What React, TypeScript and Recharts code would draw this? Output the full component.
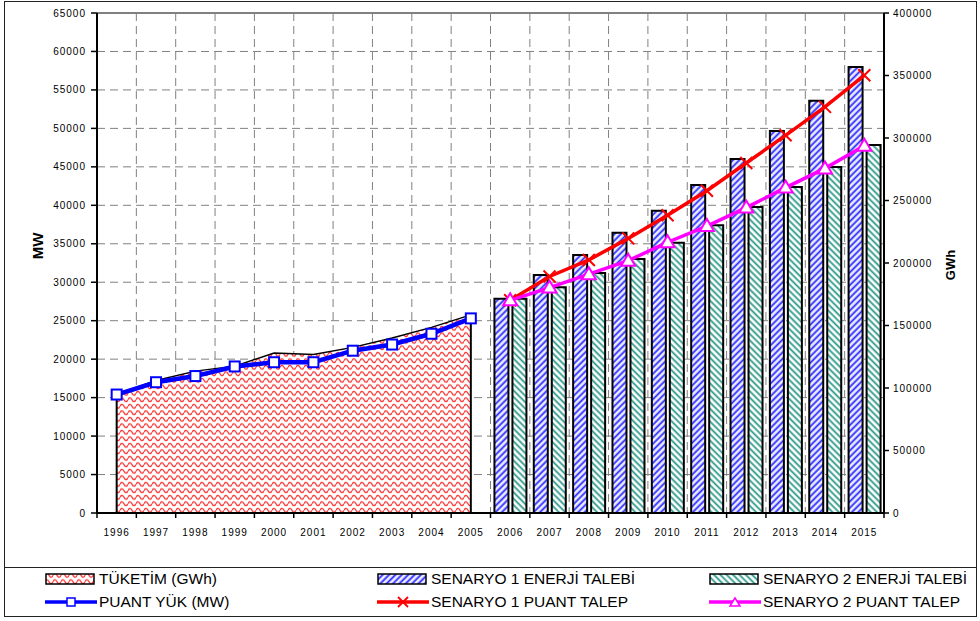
import React from "react";
import {
  ComposedChart,
  Area,
  Bar,
  Line,
  XAxis,
  YAxis,
  CartesianGrid,
  ReferenceLine,
} from "recharts";

const years = [
  "1996", "1997", "1998", "1999", "2000", "2001", "2002", "2003", "2004", "2005",
  "2006", "2007", "2008", "2009", "2010", "2011", "2012", "2013", "2014", "2015",
];

// 1996-2005 (historical)
const tuketim = [94800, 106000, 113500, 117500, 128000, 126900, 132500, 140000, 148500, 158500];
const puantYuk = [15400, 17000, 17800, 19050, 19600, 19600, 21100, 21900, 23300, 25300];

// 2006-2015 (scenarios)
const s1Enerji = [171500, 190400, 206400, 224200, 241800, 262400, 283200, 305600, 329800, 356800];
const s2Enerji = [171500, 180600, 192000, 203200, 216200, 230200, 244800, 260800, 276800, 294400];
const s1Puant = [27650, 30750, 32900, 35700, 38700, 41900, 45500, 49100, 52800, 56900];
const s2Puant = [27650, 29300, 31050, 32800, 35200, 37300, 39700, 42300, 44800, 47750];

const mwTicks = [0, 5000, 10000, 15000, 20000, 25000, 30000, 35000, 40000, 45000, 50000, 55000, 60000, 65000];
const gwhTicks = [0, 50000, 100000, 150000, 200000, 250000, 300000, 350000, 400000];

const histCount = tuketim.length;

const data = years.map((year, i) => ({
  year,
  tuketim: i < histCount ? tuketim[i] : null,
  puantYuk: i < histCount ? puantYuk[i] : null,
  s1Enerji: i >= histCount ? s1Enerji[i - histCount] : null,
  s2Enerji: i >= histCount ? s2Enerji[i - histCount] : null,
  s1Puant: i >= histCount ? s1Puant[i - histCount] : null,
  s2Puant: i >= histCount ? s2Puant[i - histCount] : null,
}));

const BLUE = "#0000ff";
const RED = "#ff0000";
const PINK = "#ff00ff";

function Patterns({ p }: { p: string }) {
  return (
    <defs>
      <pattern id={`${p}wave`} width={8} height={6.5} patternUnits="userSpaceOnUse">
        <rect width={8} height={6.5} fill="#fff" />
        <path d="M0 3.25 Q2 -0.75 4 3.25 Q6 7.25 8 3.25" fill="none" stroke="#ff2a2a" strokeWidth={1.3} />
      </pattern>
      <pattern id={`${p}s1`} width={4.5} height={4.5} patternUnits="userSpaceOnUse" patternTransform="rotate(45)">
        <rect width={4.5} height={4.5} fill="#eeeeff" />
        <line x1={1.5} y1={0} x2={1.5} y2={4.5} stroke="#2b2bff" strokeWidth={1.8} />
      </pattern>
      <pattern id={`${p}s2`} width={4.5} height={4.5} patternUnits="userSpaceOnUse" patternTransform="rotate(-45)">
        <rect width={4.5} height={4.5} fill="#fff" />
        <line x1={1.5} y1={0} x2={1.5} y2={4.5} stroke="#2e9a8a" strokeWidth={1.8} />
      </pattern>
    </defs>
  );
}

const SquareDot = (props: any) => {
  const { cx, cy, value, index } = props;
  if (cx == null || cy == null || value == null) return <g key={`sq${index}`} />;
  return <rect key={`sq${index}`} x={cx - 5} y={cy - 5} width={10} height={10} fill="#fff" stroke={BLUE} strokeWidth={2} />;
};

const CrossDot = (props: any) => {
  const { cx, cy, value, index } = props;
  if (cx == null || cy == null || value == null) return <g key={`cr${index}`} />;
  return (
    <path key={`cr${index}`} d={`M${cx - 6} ${cy - 6} L${cx + 6} ${cy + 6} M${cx + 6} ${cy - 6} L${cx - 6} ${cy + 6}`} stroke={RED} strokeWidth={2} />
  );
};

const TriangleDot = (props: any) => {
  const { cx, cy, value, index } = props;
  if (cx == null || cy == null || value == null) return <g key={`tr${index}`} />;
  return (
    <path key={`tr${index}`} d={`M${cx} ${cy - 7} L${cx + 7} ${cy + 5} L${cx - 7} ${cy + 5} Z`} fill="#fff" stroke={PINK} strokeWidth={2} />
  );
};

const tickStyle = { fontSize: 10, fill: "#000", letterSpacing: 1 };

const X_TICK_SIZE = 6;
const X_TICK_MARGIN = 10;

// year label + tick marks at the category boundaries (Excel style)
const YearTick = (props: any) => {
  const { x, y, payload, index } = props;
  const half = payload?.offset ?? 0;
  const axisY = y - X_TICK_SIZE - X_TICK_MARGIN;
  const isLast = index === years.length - 1;
  return (
    <g>
      <line x1={x - half} y1={axisY} x2={x - half} y2={axisY + 5} stroke="#000" strokeWidth={1.5} />
      {isLast && <line x1={x + half} y1={axisY} x2={x + half} y2={axisY + 5} stroke="#000" strokeWidth={1.5} />}
      <text x={x} y={y} dy="0.71em" textAnchor="middle" fontSize={10} fill="#000" letterSpacing={1}>
        {payload.value}
      </text>
    </g>
  );
};

// vertical dashed grid lines at the category boundaries, taken from the band scale
const boundaryLines = (props: any) => {
  try {
    const scale = props?.xAxis?.scale;
    if (!scale || typeof scale.bandwidth !== "function") return [];
    const bw = scale.bandwidth();
    let xs: number[];
    if (typeof scale === "function") {
      xs = years.map((y) => scale(y));
    } else if (typeof scale.map === "function") {
      xs = years.map((y) => scale.map(y));
    } else {
      const r = scale.range();
      xs = years.map((_, i) => r[0] + i * bw);
    }
    if (xs.some((v) => typeof v !== "number" || Number.isNaN(v))) {
      const r = scale.range();
      xs = years.map((_, i) => r[0] + i * bw);
    }
    return [...xs, xs[xs.length - 1] + bw];
  } catch (e) {
    return [];
  }
};

type LegendItem = { label: string; kind: "area" | "s1" | "s2" | "blue" | "red" | "pink" };
const legendRow1: LegendItem[] = [
  { label: "TÜKETİM (GWh)", kind: "area" },
  { label: "SENARYO 1 ENERJİ TALEBİ", kind: "s1" },
  { label: "SENARYO 2 ENERJİ TALEBİ", kind: "s2" },
];
const legendRow2: LegendItem[] = [
  { label: "PUANT YÜK (MW)", kind: "blue" },
  { label: "SENARYO 1 PUANT TALEP", kind: "red" },
  { label: "SENARYO 2 PUANT TALEP", kind: "pink" },
];
const legendCols = [45, 377, 709];

function Swatch({ kind }: { kind: LegendItem["kind"] }) {
  const fills: Record<string, string> = { area: "lgwave", s1: "lgs1", s2: "lgs2" };
  if (fills[kind]) {
    return (
      <svg width={52} height={14} style={{ display: "block" }}>
        <Patterns p="lg" />
        <rect x={1} y={2} width={48} height={10} fill={`url(#${fills[kind]})`} stroke="#000" strokeWidth={1.5} />
      </svg>
    );
  }
  const color = kind === "blue" ? BLUE : kind === "red" ? RED : PINK;
  return (
    <svg width={52} height={14} style={{ display: "block" }}>
      <line x1={0} y1={7} x2={52} y2={7} stroke={color} strokeWidth={3.5} />
      {kind === "blue" && <rect x={22} y={3} width={8} height={8} fill="#fff" stroke={BLUE} strokeWidth={1.5} />}
      {kind === "red" && <path d="M21 2 L31 12 M31 2 L21 12" stroke={RED} strokeWidth={1.8} />}
      {kind === "pink" && <path d="M26 3 L31 11 L21 11 Z" fill="#fff" stroke={PINK} strokeWidth={1.5} />}
    </svg>
  );
}

function LegendRow({ items, top }: { items: LegendItem[]; top: number }) {
  return (
    <>
      {items.map((it, i) => (
        <div
          key={it.label}
          style={{ position: "absolute", left: legendCols[i], top, display: "flex", alignItems: "center", height: 18 }}
        >
          <Swatch kind={it.kind} />
          <span style={{ fontSize: 15.5, lineHeight: "18px", marginLeft: 2, whiteSpace: "nowrap" }}>{it.label}</span>
        </div>
      ))}
    </>
  );
}

export default function App() {
  return (
    <div
      style={{
        position: "absolute",
        left: 0,
        top: 0,
        width: 980,
        height: 621,
        background: "#fff",
        fontFamily: "'Liberation Sans', Arial, sans-serif",
      }}
    >
      <ComposedChart width={980} height={560} data={data} margin={{ top: 13, right: 0, bottom: 0, left: 0 }}>
        <Patterns p="ch" />
        <XAxis
          xAxisId="cat"
          dataKey="year"
          height={47}
          axisLine={{ stroke: "#000", strokeWidth: 2 }}
          tickLine={false}
          tickSize={X_TICK_SIZE}
          tickMargin={X_TICK_MARGIN}
          interval={0}
          tick={YearTick}
        />
        <YAxis
          yAxisId="mw"
          orientation="left"
          width={97}
          domain={[0, 65000]}
          ticks={mwTicks}
          interval={0}
          tickSize={6}
          tickMargin={5}
          tick={tickStyle}
          axisLine={{ stroke: "#000", strokeWidth: 2 }}
          tickLine={{ stroke: "#000", strokeWidth: 1.5 }}
        />
        <YAxis
          yAxisId="gwh"
          orientation="right"
          width={96}
          domain={[0, 400000]}
          ticks={gwhTicks}
          interval={0}
          tickSize={5}
          tickMargin={4}
          tick={{ ...tickStyle, textAnchor: "start" }}
          axisLine={{ stroke: "#000", strokeWidth: 2 }}
          tickLine={{ stroke: "#000", strokeWidth: 1.5 }}
        />
        <CartesianGrid
          xAxisId="cat"
          yAxisId="mw"
          stroke="#808080"
          strokeDasharray="8 5"
          verticalCoordinatesGenerator={boundaryLines}
        />
        <ReferenceLine xAxisId="cat" yAxisId="mw" y={65000} stroke="#808080" strokeWidth={2} />
        <Area
          xAxisId="cat"
          yAxisId="gwh"
          dataKey="tuketim"
          type="linear"
          fill="url(#chwave)"
          fillOpacity={1}
          stroke="#000"
          strokeWidth={1.5}
          isAnimationActive={false}
        />
        <ReferenceLine
          xAxisId="cat"
          yAxisId="gwh"
          segment={[{ x: years[0], y: 0 }, { x: years[0], y: tuketim[0] }]}
          stroke="#000"
          strokeWidth={2}
        />
        <ReferenceLine
          xAxisId="cat"
          yAxisId="gwh"
          segment={[{ x: years[histCount - 1], y: 0 }, { x: years[histCount - 1], y: tuketim[histCount - 1] }]}
          stroke="#000"
          strokeWidth={2}
        />
        <Bar xAxisId="cat" yAxisId="gwh" dataKey="s1Enerji" fill="url(#chs1)" stroke="#000" strokeWidth={2} isAnimationActive={false} />
        <Bar xAxisId="cat" yAxisId="gwh" dataKey="s2Enerji" fill="url(#chs2)" stroke="#000" strokeWidth={2} isAnimationActive={false} />
        <Line xAxisId="cat" yAxisId="mw" dataKey="puantYuk" type="linear" stroke={BLUE} strokeWidth={4.5} dot={SquareDot} activeDot={false} isAnimationActive={false} />
        <Line xAxisId="cat" yAxisId="mw" dataKey="s1Puant" type="linear" stroke={RED} strokeWidth={3.5} dot={CrossDot} activeDot={false} isAnimationActive={false} />
        <Line xAxisId="cat" yAxisId="mw" dataKey="s2Puant" type="linear" stroke={PINK} strokeWidth={3.5} dot={TriangleDot} activeDot={false} isAnimationActive={false} />
      </ComposedChart>

      <div
        style={{
          position: "absolute",
          left: 37,
          top: 246,
          transform: "translate(-50%, -50%) rotate(-90deg)",
          fontWeight: "bold",
          fontSize: 15,
        }}
      >
        MW
      </div>
      <div
        style={{
          position: "absolute",
          left: 950,
          top: 265,
          transform: "translate(-50%, -50%) rotate(-90deg)",
          fontWeight: "bold",
          fontSize: 13,
        }}
      >
        GWh
      </div>

      {/* frame and legend */}
      <div style={{ position: "absolute", left: 4, top: 1, width: 973, height: 616, border: "1.5px solid #222", boxSizing: "border-box" }} />
      <div style={{ position: "absolute", left: 4, top: 567, width: 973, height: 0, borderTop: "1.5px solid #222" }} />
      <LegendRow items={legendRow1} top={570} />
      <LegendRow items={legendRow2} top={593} />
    </div>
  );
}
